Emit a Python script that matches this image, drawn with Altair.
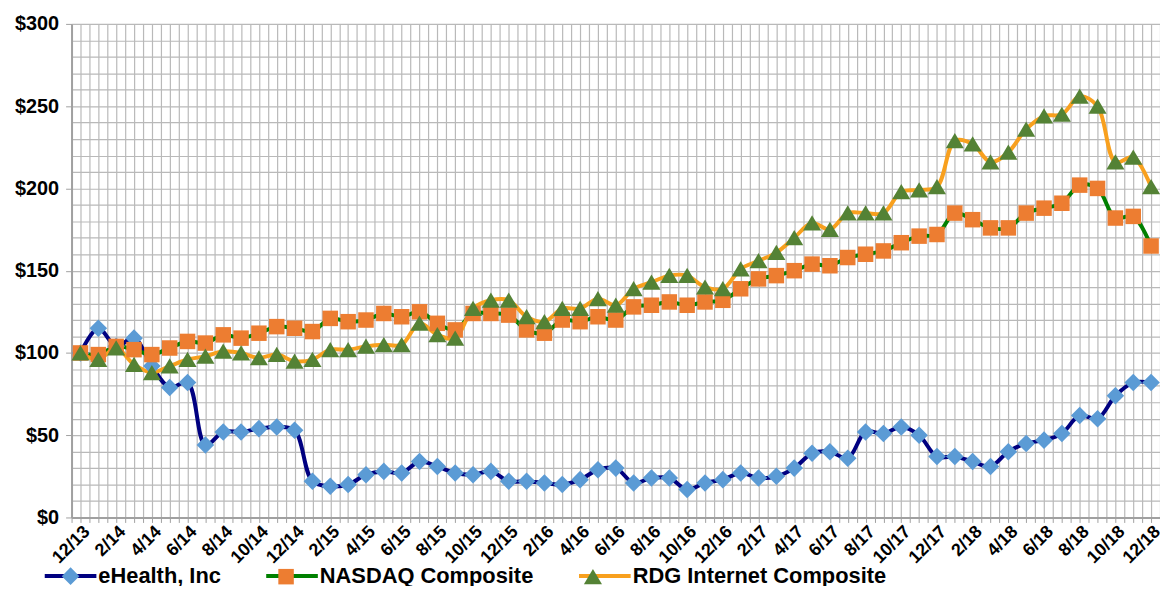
import altair as alt
import pandas as pd

months = ["12/13", "1/14", "2/14", "3/14", "4/14", "5/14", "6/14", "7/14", "8/14", "9/14", "10/14", "11/14",
          "12/14", "1/15", "2/15", "3/15", "4/15", "5/15", "6/15", "7/15", "8/15", "9/15", "10/15", "11/15",
          "12/15", "1/16", "2/16", "3/16", "4/16", "5/16", "6/16", "7/16", "8/16", "9/16", "10/16", "11/16",
          "12/16", "1/17", "2/17", "3/17", "4/17", "5/17", "6/17", "7/17", "8/17", "9/17", "10/17", "11/17",
          "12/17", "1/18", "2/18", "3/18", "4/18", "5/18", "6/18", "7/18", "8/18", "9/18", "10/18", "11/18",
          "12/18"]

ehealth = [100, 115, 104, 109, 92, 79, 82, 44, 52, 52, 54, 55,
           53, 22, 19, 20, 26, 28, 27, 34, 31, 27, 26, 28,
           22, 22, 21, 20, 23, 29, 30, 21, 24, 24, 17, 21,
           23, 27, 24, 25, 30, 39, 40, 36, 52, 51, 55, 50,
           37, 37, 34, 31, 40, 45, 47, 51, 62, 60, 74, 82,
           82]

nasdaq = [100, 99, 104, 102, 99, 103, 107, 106, 111, 109, 112, 116,
          115, 113, 121, 119, 120, 124, 122, 125, 118, 114, 124, 124,
          123, 114, 112, 120, 119, 122, 120, 128, 129, 131, 129, 131,
          132, 139, 145, 147, 150, 154, 153, 158, 160, 162, 167, 171,
          172, 185, 181, 176, 176, 185, 188, 191, 202, 200, 182, 183,
          165]

rdg = [100, 96, 103, 93, 88, 92, 96, 98, 101, 100, 97, 99,
       95, 96, 102, 102, 104, 105, 105, 118, 111, 109, 127, 132,
       132, 122, 119, 127, 127, 133, 129, 139, 143, 147, 147, 140,
       139, 151, 156, 161, 170, 179, 175, 185, 185, 185, 198, 199,
       201, 229, 227, 216, 222, 236, 244, 245, 256, 250, 216, 219,
       201]

series_names = ["eHealth, Inc", "NASDAQ Composite", "RDG Internet Composite"]
line_colors = ["#000080", "#008000", "#F8A01E"]
marker_colors = ["#5B9BD5", "#ED7D31", "#548235"]
marker_paths = ["M0,-0.34L0.34,0L0,0.34L-0.34,0Z",
                "M-0.3,-0.3H0.3V0.3H-0.3Z",
                "M0,-0.3L0.35,0.29H-0.35Z"]

rows = []
for name, vals in zip(series_names, [ehealth, nasdaq, rdg]):
    for i, v in enumerate(vals):
        rows.append({"series": name, "line_series": name, "idx": i, "value": v})
df = pd.DataFrame(rows)

FONT = "Liberation Sans"
GRID = "#b9b9b9"
AXIS = "#a0a0a0"

label_js = "[" + ",".join("'" + m + "'" for m in months) + "]"
x_vals = [i / 2 for i in range(-1, 122)]
y_vals = list(range(0, 301, 10))

xs = alt.Scale(domain=[-0.5, 60.5], nice=False, zero=False)
ys = alt.Scale(domain=[0, 300], nice=False)

x_axis = alt.Axis(values=x_vals, grid=True, gridColor=GRID, gridWidth=1.2,
                  domainColor=AXIS, domainWidth=2, tickColor=AXIS, tickSize=5,
                  labelExpr="(datum.value >= 0 && datum.value % 2 == 0) ? " + label_js + "[datum.value] : ''",
                  labelAngle=-45, labelFont=FONT, labelFontSize=18, labelFontWeight="bold",
                  labelColor="black", labelOverlap=False, labelFlush=False, labelPadding=0,
                  title=None)
y_axis = alt.Axis(values=y_vals, grid=True, gridColor=GRID, gridWidth=1.2,
                  domainColor=AXIS, domainWidth=2, tickColor=AXIS, tickSize=6,
                  tickOpacity={"condition": {"test": "datum.value % 50 === 0", "value": 1}, "value": 0},
                  labelExpr="datum.value % 50 == 0 ? '$' + datum.value : ''",
                  labelFont=FONT, labelFontSize=20, labelFontWeight="bold", labelColor="black",
                  labelPadding=7, labelOverlap=False, title=None)

common_legend = dict(orient="none", legendX=-29, legendY=528, direction="horizontal", title=None,
                     symbolSize=2704, symbolStrokeWidth=4, labelFont=FONT, labelFontSize=22,
                     labelFontWeight="bold", labelColor="black", labelOffset=0, columnPadding=37,
                     padding=0, labelLimit=400)

line_legend = alt.Legend(symbolType="M-1,0H1", zindex=0, **common_legend)
marker_legend = alt.Legend(labelOpacity=0, symbolStrokeColor="transparent", zindex=1, **common_legend)

lines = alt.Chart(df).mark_line(strokeWidth=4, interpolate="catmull-rom").encode(
    x=alt.X("idx:Q", scale=xs, axis=x_axis),
    y=alt.Y("value:Q", scale=ys, axis=y_axis),
    stroke=alt.Stroke("line_series:N", scale=alt.Scale(domain=series_names, range=line_colors),
                      legend=line_legend),
)

points = alt.Chart(df).mark_point(filled=True, opacity=1, size=2704).encode(
    x=alt.X("idx:Q", scale=xs, axis=x_axis),
    y=alt.Y("value:Q", scale=ys, axis=y_axis),
    fill=alt.Fill("series:N", scale=alt.Scale(domain=series_names, range=marker_colors),
                  legend=marker_legend),
    shape=alt.Shape("series:N", scale=alt.Scale(domain=series_names, range=marker_paths),
                    legend=marker_legend),
)

chart = alt.layer(lines, points).resolve_legend(stroke="independent", fill="independent",
                                                shape="independent").properties(
    width=1096, height=497,
    autosize=alt.AutoSizeParams(type="none"),
    padding={"left": 64, "top": 14, "right": 0, "bottom": 67},
    background="white",
).configure_view(stroke=None)

chart.save("out.html", embed_options={"renderer": "svg", "actions": False})
